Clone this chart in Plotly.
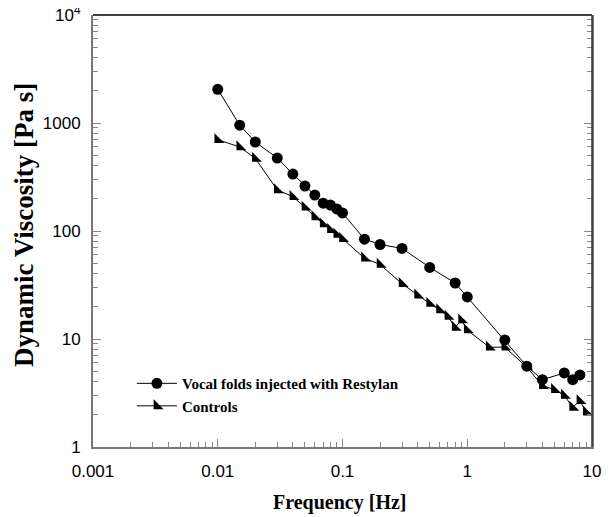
import plotly.graph_objects as go

freq_restylan = [0.01, 0.015, 0.02, 0.03, 0.04, 0.05, 0.06, 0.07, 0.08, 0.09, 0.1,
                 0.15, 0.2, 0.3, 0.5, 0.8, 1.0, 2.0, 3.0, 4.0, 6.0, 7.0, 8.0]
visc_restylan = [2050, 955, 667, 474, 337, 261, 215, 181, 174, 160, 147,
                 84, 75, 69, 46, 33, 24.5, 9.8, 5.6, 4.2, 4.85, 4.2, 4.65]

freq_controls = [0.01, 0.015, 0.02, 0.03, 0.04, 0.05, 0.06, 0.07, 0.08, 0.09, 0.1,
                 0.15, 0.2, 0.3, 0.4, 0.5, 0.6, 0.7, 0.8, 0.9, 1.0, 1.5, 2.0,
                 3.0, 4.0, 5.0, 6.0, 7.0, 8.0, 9.0]
visc_controls = [700, 600, 470, 240, 208, 166, 135, 116, 103, 93, 85,
                 56, 49, 32.5, 25.5, 21.3, 18.6, 16.2, 12.8, 15.0, 12.1, 8.4, 8.4,
                 5.5, 3.7, 3.4, 3.0, 2.33, 2.68, 2.1]

y_tickvals = [1, 10, 100, 1000, 10000]
y_ticktext = ["1", "10", "100", "1000", "10<sup>4</sup>"]
x_tickvals = [0.001, 0.01, 0.1, 1, 10]
x_ticktext = ["0.001", "0.01", "0.1", "1", "10"]

fig = go.Figure()
fig.add_trace(go.Scatter(
    x=freq_restylan, y=visc_restylan, mode="lines+markers",
    name="Vocal folds injected with Restylan",
    line=dict(color="black", width=1),
    marker=dict(symbol="circle", size=11, color="black"),
))
fig.add_trace(go.Scatter(
    x=freq_controls, y=visc_controls, mode="lines+markers",
    name="Controls",
    line=dict(color="black", width=1),
    marker=dict(symbol="triangle-sw", size=11, color="black"),
))

axis_font = dict(family="Liberation Sans, Arial", size=17, color="black")
xtitle_font = dict(family="Liberation Serif, Times New Roman", size=20, color="black")
ytitle_font = dict(family="Liberation Serif, Times New Roman", size=27, color="black")

# page body has an 8px default margin; margins compensate for it
fig.update_layout(
    width=610, height=517,
    margin=dict(l=85, r=26, t=7, b=78),
    paper_bgcolor="white", plot_bgcolor="white",
    showlegend=True,
    legend=dict(
        x=0.078, y=0.185, xanchor="left", yanchor="top",
        bgcolor="rgba(0,0,0,0)",
        font=dict(family="Liberation Serif, Times New Roman", size=15, color="black", weight="bold"),
        tracegroupgap=0, itemwidth=40,
    ),
    xaxis=dict(
        type="log", range=[-3, 1], automargin=False,
        tickvals=x_tickvals, ticktext=x_ticktext,
        ticks="inside", ticklen=8, tickcolor="#888", tickwidth=1,
        minor=dict(ticks="inside", ticklen=5, tickcolor="#888", dtick="D1"),
        showgrid=False, zeroline=False,
        showline=True, linecolor="#777", linewidth=2,
        tickfont=axis_font, ticklabelstandoff=8, ticklabeloverflow="allow",
    ),
    yaxis=dict(
        type="log", range=[0, 4], automargin=False,
        tickvals=y_tickvals, ticktext=y_ticktext,
        ticks="inside", ticklen=8, tickcolor="#888", tickwidth=1,
        minor=dict(ticks="inside", ticklen=5, tickcolor="#888", dtick="D1"),
        mirror="ticks",
        showgrid=False, zeroline=False,
        showline=True, linecolor="#777", linewidth=2,
        tickfont=axis_font, ticklabelstandoff=7, ticklabeloverflow="allow",
    ),
    annotations=[
        dict(
            text="<b>Dynamic Viscosity [Pa s]</b>", textangle=-90,
            xref="paper", yref="paper", x=(16 - 85) / 499, y=0.514,
            xanchor="center", yanchor="middle", showarrow=False,
            font=ytitle_font,
        ),
        dict(
            text="<b>Frequency [Hz]</b>",
            xref="paper", yref="paper", x=0.495, y=(439 - 495) / 432,
            xanchor="center", yanchor="middle", showarrow=False,
            font=xtitle_font,
        ),
    ],
)

fig.add_shape(type="line", xref="paper", yref="paper", x0=0, x1=1, y0=1, y1=1,
              line=dict(color="black", width=1.5))
fig.add_shape(type="line", xref="paper", yref="paper", x0=1, x1=1, y0=0, y1=1,
              line=dict(color="#333", width=1.5))

fig.write_html("out.html")
